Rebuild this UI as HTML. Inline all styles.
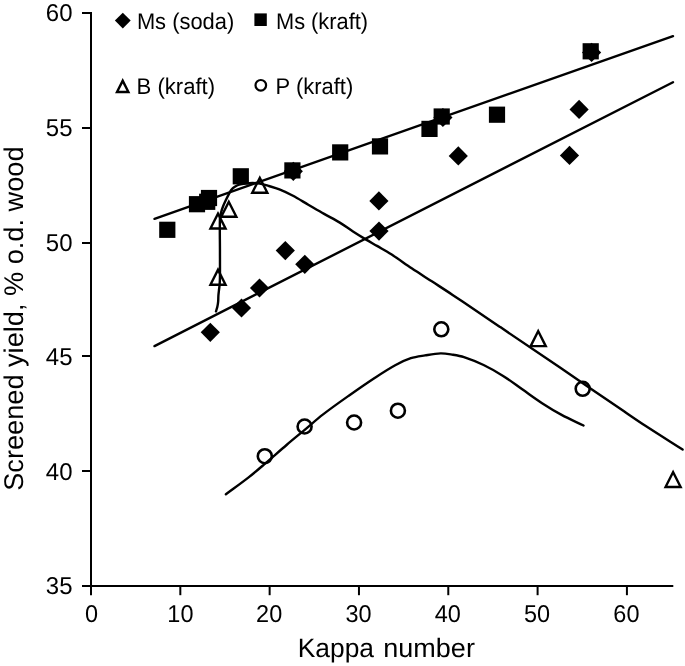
<!DOCTYPE html>
<html><head><meta charset="utf-8"><title>Screened yield vs Kappa number</title>
<style>html,body{margin:0;padding:0;background:#fff}body{width:685px;height:666px;overflow:hidden}svg{display:block}text{font-family:"Liberation Sans",sans-serif;fill:#000;text-rendering:geometricPrecision}svg{filter:grayscale(1)}</style>
</head><body>
<svg width="685" height="666" viewBox="0 0 685 666">
<rect width="685" height="666" fill="#fff"/>
<g fill="none" stroke="#000" stroke-width="2.4" stroke-linecap="round" stroke-linejoin="round">
<line x1="154.5" y1="218.8" x2="673" y2="36.15"/>
<line x1="154.5" y1="346.1" x2="673" y2="82.2"/>
<path d="M216.00,311.30C216.47,309.70 217.04,308.13 217.40,306.50C217.76,304.90 218.00,303.28 218.15,301.65C218.33,299.64 218.26,297.61 218.40,295.60C218.51,294.00 218.72,292.40 218.90,290.80C219.12,288.80 219.44,286.81 219.60,284.80C219.79,282.40 219.93,280.00 219.95,277.60C220.04,268.40 219.95,259.20 219.95,250.00C219.95,239.35 219.60,228.69 219.95,218.05C220.02,216.00 220.67,214.02 221.20,212.04C221.75,210.01 222.43,208.00 223.20,206.04C224.00,203.99 224.96,202.02 225.90,200.03C226.76,198.21 227.64,196.39 228.60,194.62C229.48,192.99 230.25,191.27 231.40,189.82C232.34,188.64 233.54,187.66 234.80,186.82C236.16,185.92 237.64,185.13 239.20,184.65C241.37,183.99 243.65,183.73 245.90,183.45C248.14,183.17 250.40,182.95 252.66,182.97C255.07,183.00 257.49,183.16 259.86,183.60C262.92,184.17 265.91,185.11 268.90,186.00C272.43,187.05 275.99,188.03 279.40,189.40C283.87,191.20 288.24,193.25 292.50,195.50C297.89,198.35 303.03,201.63 308.30,204.70C313.57,207.77 318.80,210.89 324.10,213.90C329.30,216.86 334.69,219.49 339.80,222.60C344.33,225.36 348.54,228.62 353.00,231.50C357.31,234.29 361.70,236.96 366.10,239.60C369.70,241.76 373.38,243.79 377.00,245.90C381.78,248.69 386.66,251.30 391.30,254.30C398.23,258.77 404.84,263.72 411.70,268.30C418.47,272.82 425.37,277.16 432.20,281.60C439.00,286.03 445.85,290.39 452.60,294.90C468.45,305.49 484.21,316.21 500.00,326.90C520.01,340.45 540.02,354.00 560.00,367.60C581.35,382.14 602.65,396.76 624.00,411.30C630.98,416.06 637.92,420.89 645.00,425.50C657.46,433.62 670.07,441.50 682.60,449.50"/>
<path d="M225.90,494.30C233.47,488.67 241.16,483.20 248.60,477.40C253.94,473.23 259.05,468.80 264.20,464.40C271.89,457.83 279.41,451.06 287.10,444.50C292.81,439.63 298.64,434.91 304.40,430.10C310.64,424.88 316.66,419.38 323.10,414.40C331.71,407.74 340.62,401.48 349.50,395.20C357.92,389.25 366.38,383.36 375.00,377.70C381.62,373.35 388.25,368.99 395.20,365.20C400.21,362.47 405.39,359.98 410.80,358.20C415.38,356.69 420.24,356.17 425.00,355.40C430.18,354.57 435.36,353.56 440.60,353.40C444.42,353.29 448.23,354.00 452.00,354.60C456.04,355.24 460.12,355.82 464.00,357.10C470.69,359.30 477.25,361.95 483.60,365.00C490.31,368.23 496.80,371.93 503.10,375.90C509.82,380.14 516.09,385.04 522.60,389.60C529.09,394.14 535.45,398.89 542.10,403.20C548.46,407.33 554.93,411.31 561.60,414.90C568.74,418.75 576.20,421.97 583.50,425.50"/>
</g>
<g stroke="#000" stroke-width="2" fill="none">
<line x1="91" y1="12" x2="91" y2="595.2"/>
<line x1="82" y1="586" x2="673.3" y2="586"/>
<line x1="82" y1="471" x2="91" y2="471"/>
<line x1="82" y1="356" x2="91" y2="356"/>
<line x1="82" y1="243" x2="91" y2="243"/>
<line x1="82" y1="128" x2="91" y2="128"/>
<line x1="82" y1="13" x2="91" y2="13"/>
<line x1="180.32" y1="586" x2="180.32" y2="595.2"/>
<line x1="269.64" y1="586" x2="269.64" y2="595.2"/>
<line x1="358.96" y1="586" x2="358.96" y2="595.2"/>
<line x1="448.28" y1="586" x2="448.28" y2="595.2"/>
<line x1="537.60" y1="586" x2="537.60" y2="595.2"/>
<line x1="626.92" y1="586" x2="626.92" y2="595.2"/>
</g>
<g font-size="24.3" lengthAdjust="spacingAndGlyphs">
<text x="72.5" y="594.28" text-anchor="end" textLength="26.7" lengthAdjust="spacingAndGlyphs">35</text>
<text x="72.5" y="479.69" text-anchor="end" textLength="26.7" lengthAdjust="spacingAndGlyphs">40</text>
<text x="72.5" y="365.11" text-anchor="end" textLength="26.7" lengthAdjust="spacingAndGlyphs">45</text>
<text x="72.5" y="250.52" text-anchor="end" textLength="26.7" lengthAdjust="spacingAndGlyphs">50</text>
<text x="72.5" y="135.94" text-anchor="end" textLength="26.7" lengthAdjust="spacingAndGlyphs">55</text>
<text x="72.5" y="21.35" text-anchor="end" textLength="26.7" lengthAdjust="spacingAndGlyphs">60</text>
<text x="91.50" y="621.6" text-anchor="middle" textLength="13.05" lengthAdjust="spacingAndGlyphs">0</text>
<text x="180.42" y="621.6" text-anchor="middle" textLength="26.1" lengthAdjust="spacingAndGlyphs">10</text>
<text x="269.14" y="621.6" text-anchor="middle" textLength="26.1" lengthAdjust="spacingAndGlyphs">20</text>
<text x="358.46" y="621.6" text-anchor="middle" textLength="26.1" lengthAdjust="spacingAndGlyphs">30</text>
<text x="447.78" y="621.6" text-anchor="middle" textLength="26.1" lengthAdjust="spacingAndGlyphs">40</text>
<text x="537.10" y="621.6" text-anchor="middle" textLength="26.1" lengthAdjust="spacingAndGlyphs">50</text>
<text x="626.42" y="621.6" text-anchor="middle" textLength="26.1" lengthAdjust="spacingAndGlyphs">60</text>
</g>
<text x="297.8" y="656.8" font-size="26.7" textLength="76.2" lengthAdjust="spacingAndGlyphs">Kappa</text>
<text x="383.3" y="656.8" font-size="26.7" textLength="91.6" lengthAdjust="spacingAndGlyphs">number</text>
<text transform="translate(23.4 490.8) rotate(-90)" font-size="27" textLength="344.3" lengthAdjust="spacingAndGlyphs">Screened yield, % o.d. wood</text>
<g fill="#000">
<path d="M210.3,322.7L219.9,332.3L210.3,341.90000000000003L200.70000000000002,332.3Z"/>
<path d="M241.5,298.4L251.1,308L241.5,317.6L231.9,308Z"/>
<path d="M259.5,278.4L269.1,288L259.5,297.6L249.9,288Z"/>
<path d="M285.3,241.0L294.90000000000003,250.6L285.3,260.2L275.7,250.6Z"/>
<path d="M304.8,254.70000000000002L314.40000000000003,264.3L304.8,273.90000000000003L295.2,264.3Z"/>
<path d="M293.3,161.70000000000002L302.90000000000003,171.3L293.3,180.9L283.7,171.3Z"/>
<path d="M378.9,191.3L388.5,200.9L378.9,210.5L369.29999999999995,200.9Z"/>
<path d="M379,221.5L388.6,231.1L379,240.7L369.4,231.1Z"/>
<path d="M442.9,107.9L452.5,117.5L442.9,127.1L433.29999999999995,117.5Z"/>
<path d="M458.3,146.3L467.90000000000003,155.9L458.3,165.5L448.7,155.9Z"/>
<path d="M569.5,145.8L579.1,155.4L569.5,165.0L559.9,155.4Z"/>
<path d="M579.1,99.80000000000001L588.7,109.4L579.1,119.0L569.5,109.4Z"/>
<path d="M591.6,42.8L601.2,52.4L591.6,62.0L582.0,52.4Z"/>
<rect x="159.20" y="221.70" width="16.2" height="16.2"/>
<rect x="188.90" y="196.10" width="16.2" height="16.2"/>
<rect x="199.10" y="193.70" width="16.2" height="16.2"/>
<rect x="200.90" y="189.90" width="16.2" height="16.2"/>
<rect x="232.70" y="168.20" width="16.2" height="16.2"/>
<rect x="284.30" y="162.30" width="16.2" height="16.2"/>
<rect x="332.10" y="144.30" width="16.2" height="16.2"/>
<rect x="371.90" y="138.30" width="16.2" height="16.2"/>
<rect x="421.40" y="120.80" width="16.2" height="16.2"/>
<rect x="433.60" y="108.40" width="16.2" height="16.2"/>
<rect x="488.90" y="106.60" width="16.2" height="16.2"/>
<rect x="582.60" y="43.20" width="16.2" height="16.2"/>
</g>
<path d="M218,210.90L227.50,229.70L208.50,229.70ZM218,216.22L212.40,227.30L223.60,227.30Z" fill="#000" fill-rule="evenodd"/>
<path d="M228.8,199.20L238.30,218.00L219.30,218.00ZM228.8,204.52L223.20,215.60L234.40,215.60Z" fill="#000" fill-rule="evenodd"/>
<path d="M259.8,175.20L269.30,194.00L250.30,194.00ZM259.8,180.52L254.20,191.60L265.40,191.60Z" fill="#000" fill-rule="evenodd"/>
<path d="M218,267.10L227.50,285.90L208.50,285.90ZM218,272.42L212.40,283.50L223.60,283.50Z" fill="#000" fill-rule="evenodd"/>
<path d="M538.2,328.50L547.70,347.30L528.70,347.30ZM538.2,333.82L532.60,344.90L543.80,344.90Z" fill="#000" fill-rule="evenodd"/>
<path d="M673.1,469.40L682.60,488.20L663.60,488.20ZM673.1,474.72L667.50,485.80L678.70,485.80Z" fill="#000" fill-rule="evenodd"/>
<circle cx="264.8" cy="456.2" r="7.0" fill="none" stroke="#000" stroke-width="2.6"/>
<circle cx="304.6" cy="426.5" r="7.0" fill="none" stroke="#000" stroke-width="2.6"/>
<circle cx="354.1" cy="422.5" r="7.0" fill="none" stroke="#000" stroke-width="2.6"/>
<circle cx="397.9" cy="410.7" r="7.0" fill="none" stroke="#000" stroke-width="2.6"/>
<circle cx="441.3" cy="329.3" r="7.0" fill="none" stroke="#000" stroke-width="2.6"/>
<circle cx="582.7" cy="388.8" r="7.0" fill="none" stroke="#000" stroke-width="2.6"/>
<path d="M122.8,12.8L130.7,20.6L122.8,28.4L114.9,20.6Z" fill="#000"/>
<rect x="254.4" y="13.4" width="12.4" height="12.6" fill="#000"/>
<path d="M122.7,78.10L130.35,93.20L115.05,93.20ZM122.7,83.41L118.96,90.80L126.44,90.80Z" fill="#000" fill-rule="evenodd"/>
<circle cx="260.8" cy="85.3" r="5.3" fill="none" stroke="#000" stroke-width="2.2"/>
<g font-size="22.7">
<text x="136.9" y="28.8" textLength="97.3" lengthAdjust="spacingAndGlyphs">Ms (soda)</text>
<text x="276" y="28.8" textLength="92" lengthAdjust="spacingAndGlyphs">Ms (kraft)</text>
<text x="136.5" y="93.9" textLength="78.6" lengthAdjust="spacingAndGlyphs">B (kraft)</text>
<text x="275.6" y="94.0" textLength="77.6" lengthAdjust="spacingAndGlyphs">P (kraft)</text>
</g>
</svg></body></html>
